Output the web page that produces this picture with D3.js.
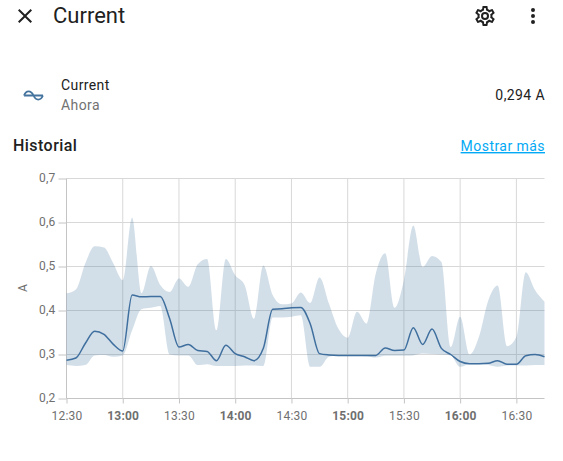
<!DOCTYPE html>
<html>
<head>
<meta charset="utf-8">
<script src="https://cdn.jsdelivr.net/npm/d3@7"></script>
<style>
  html, body { margin: 0; padding: 0; background: #fff; overflow: hidden; }
  text { font-family: Roboto, sans-serif; }
</style>
</head>
<body>
<svg id="chart" width="563" height="461"></svg>
<script>
// minutes after 12:30, one reading every 5 minutes
var minutes = [0, 5, 10, 15, 20, 25, 30, 35, 40, 45, 50, 55, 60, 65, 70, 75, 80, 85, 90, 95, 100, 105, 110, 115, 120, 125, 130, 135, 140, 145, 150, 155, 160, 165, 170, 175, 180, 185, 190, 195, 200, 205, 210, 215, 220, 225, 230, 235, 240, 245, 250, 255];

var mean_values = [0.287, 0.292, 0.325, 0.353, 0.346, 0.323, 0.308, 0.435, 0.431, 0.432, 0.432, 0.382, 0.317, 0.323, 0.309, 0.307, 0.286, 0.321, 0.302, 0.295, 0.286, 0.314, 0.403, 0.404, 0.406, 0.407, 0.370, 0.302, 0.299, 0.298, 0.298, 0.298, 0.298, 0.298, 0.315, 0.309, 0.310, 0.361, 0.323, 0.358, 0.314, 0.300, 0.284, 0.279, 0.279, 0.280, 0.286, 0.278, 0.278, 0.297, 0.300, 0.295];

var max_values = [0.439, 0.448, 0.507, 0.546, 0.543, 0.507, 0.469, 0.611, 0.439, 0.501, 0.458, 0.442, 0.473, 0.454, 0.505, 0.517, 0.355, 0.517, 0.480, 0.458, 0.381, 0.502, 0.435, 0.414, 0.416, 0.441, 0.417, 0.475, 0.416, 0.359, 0.338, 0.397, 0.370, 0.484, 0.530, 0.406, 0.469, 0.593, 0.499, 0.524, 0.510, 0.317, 0.386, 0.300, 0.340, 0.423, 0.457, 0.319, 0.340, 0.487, 0.446, 0.420];

var min_values = [0.276, 0.274, 0.276, 0.298, 0.299, 0.295, 0.298, 0.355, 0.403, 0.406, 0.410, 0.300, 0.298, 0.298, 0.276, 0.278, 0.274, 0.274, 0.274, 0.275, 0.275, 0.274, 0.384, 0.384, 0.386, 0.389, 0.272, 0.272, 0.295, 0.298, 0.298, 0.297, 0.296, 0.293, 0.297, 0.297, 0.297, 0.298, 0.302, 0.301, 0.300, 0.298, 0.272, 0.278, 0.278, 0.276, 0.272, 0.275, 0.275, 0.275, 0.276, 0.276];

var y_ticks = [0.2, 0.3, 0.4, 0.5, 0.6, 0.7];
var x_tick_minutes = [0, 30, 60, 90, 120, 150, 180, 210, 240];
var x_tick_labels = ['12:30', '13:00', '13:30', '14:00', '14:30', '15:00', '15:30', '16:00', '16:30'];
var bold_labels = ['13:00', '14:00', '15:00', '16:00'];

var icon_close = 'M19,6.41L17.59,5L12,10.59L6.41,5L5,6.41L10.59,12L5,17.59L6.41,19L12,13.41L17.59,19L19,17.59L13.41,12L19,6.41Z';
var icon_cog = 'M12,8A4,4 0 0,1 16,12A4,4 0 0,1 12,16A4,4 0 0,1 8,12A4,4 0 0,1 12,8M12,10A2,2 0 0,0 10,12A2,2 0 0,0 12,14A2,2 0 0,0 14,12A2,2 0 0,0 12,10M10,22C9.75,22 9.54,21.82 9.5,21.58L9.13,18.93C8.5,18.68 7.96,18.34 7.44,17.94L4.95,18.95C4.73,19.03 4.46,18.95 4.34,18.73L2.34,15.27C2.21,15.05 2.27,14.78 2.46,14.63L4.57,12.97L4.5,12L4.57,11L2.46,9.37C2.27,9.22 2.21,8.95 2.34,8.73L4.34,5.27C4.46,5.05 4.73,4.96 4.95,5.05L7.44,6.05C7.96,5.66 8.5,5.32 9.13,5.07L9.5,2.42C9.54,2.18 9.75,2 10,2H14C14.25,2 14.46,2.18 14.5,2.42L14.87,5.07C15.5,5.32 16.04,5.66 16.56,6.05L19.05,5.05C19.27,4.96 19.54,5.05 19.66,5.27L21.66,8.73C21.79,8.95 21.73,9.22 21.54,9.37L19.43,11L19.5,12L19.43,13L21.54,14.63C21.73,14.78 21.79,15.05 21.66,15.27L19.66,18.73C19.54,18.95 19.27,19.04 19.05,18.95L16.56,17.95C16.04,18.34 15.5,18.68 14.87,18.93L14.5,21.58C14.46,21.82 14.25,22 14,22H10M11.25,4L10.88,6.61C9.68,6.86 8.62,7.5 7.85,8.39L5.44,7.35L4.69,8.65L6.8,10.2C6.4,11.37 6.4,12.64 6.8,13.8L4.68,15.36L5.43,16.66L7.86,15.62C8.63,16.5 9.68,17.14 10.87,17.38L11.24,20H12.76L13.13,17.39C14.32,17.14 15.37,16.5 16.14,15.62L18.57,16.66L19.32,15.36L17.2,13.81C17.6,12.64 17.6,11.37 17.2,10.2L19.31,8.65L18.56,7.35L16.15,8.39C15.38,7.5 14.32,6.86 13.12,6.62L12.75,4H11.25Z';
var icon_dots = 'M12,16A2,2 0 0,1 14,18A2,2 0 0,1 12,20A2,2 0 0,1 10,18A2,2 0 0,1 12,16M12,10A2,2 0 0,1 14,12A2,2 0 0,1 12,14A2,2 0 0,1 10,12A2,2 0 0,1 12,10M12,4A2,2 0 0,1 14,6A2,2 0 0,1 12,8A2,2 0 0,1 10,6A2,2 0 0,1 12,4Z';

var line_color = '#3f6f9e';

var svg = d3.select('#chart');

var x = d3.scaleLinear().domain([0, 255]).range([66.5, 544.5]);
var y = d3.scaleLinear().domain([0.2, 0.7]).range([398.5, 178.5]);

drawHeader();
drawGrid();
drawSeries();
drawAxes();


function drawHeader() {

    svg.append('path').attr('d', icon_close).attr('fill', '#212121')
        .attr('transform', 'translate(13,4)');
    svg.append('path').attr('d', icon_cog).attr('fill', '#212121')
        .attr('transform', 'translate(473,4)');
    svg.append('path').attr('d', icon_dots).attr('fill', '#212121')
        .attr('transform', 'translate(521,4)');

    addText(53, 23, 'Current', 22, '#212121');
    addText(61, 90, 'Current', 14, '#212121').attr('letter-spacing', 0.4);
    addText(61, 110, 'Ahora', 14, '#727272').attr('letter-spacing', 0.4);
    addText(545, 100, '0,294 A', 14, '#212121').attr('text-anchor', 'end').attr('letter-spacing', 0.4);
    addText(13, 151, 'Historial', 16, '#212121').attr('font-weight', 500).attr('letter-spacing', 0.45);
    addText(545, 151, 'Mostrar más', 14, '#03a9f4')
        .attr('text-anchor', 'end')
        .attr('letter-spacing', 0.45)
        .attr('text-decoration', 'underline');

    // state icon, sine over a flat line
    svg.append('path')
        .attr('d', 'M24,95.5C26,90 31,90 33.5,95.5C36,101 40.5,101 43,95.5M24,95.5H43')
        .attr('fill', 'none')
        .attr('stroke', '#44739e')
        .attr('stroke-width', 1.8);
}


function addText(px, py, label, size, color) {

    return svg.append('text')
        .attr('x', px)
        .attr('y', py)
        .attr('font-size', size)
        .attr('fill', color)
        .text(label);
}


function drawGrid() {

    var grid = svg.append('g');

    grid.selectAll('.h')
        .data(y_ticks)
        .enter().append('line')
        .attr('x1', x(0)).attr('x2', x(255))
        .attr('y1', function(d) { return y(d); })
        .attr('y2', function(d) { return y(d); })
        .attr('stroke', function(d) { return d == 0.2 ? '#c4c4c4' : '#d8d8d8'; });

    grid.selectAll('.v')
        .data(x_tick_minutes)
        .enter().append('line')
        .attr('x1', function(d) { return x(d); })
        .attr('x2', function(d) { return x(d); })
        .attr('y1', y(0.7)).attr('y2', y(0.2))
        .attr('stroke', function(d) { return d == 0 ? '#c4c4c4' : '#d8d8d8'; });
}


function drawSeries() {

    var area = d3.area()
        .curve(d3.curveMonotoneX)
        .x(function(d) { return x(d); })
        .y0(function(d, i) { return y(min_values[i]); })
        .y1(function(d, i) { return y(max_values[i]); });

    var line = d3.line()
        .curve(d3.curveMonotoneX)
        .x(function(d) { return x(d); })
        .y(function(d, i) { return y(mean_values[i]); });

    svg.append('path')
        .attr('d', area(minutes))
        .attr('fill', '#44739e')
        .attr('fill-opacity', 0.24);

    svg.append('path')
        .attr('d', line(minutes))
        .attr('fill', 'none')
        .attr('stroke', line_color)
        .attr('stroke-width', 1.5);
}


function drawAxes() {

    var x_axis = d3.axisBottom(x)
        .tickValues(x_tick_minutes)
        .tickFormat(function(d, i) { return x_tick_labels[i]; })
        .tickSize(5)
        .tickPadding(8);

    var y_axis = d3.axisLeft(y)
        .tickValues(y_ticks)
        .tickFormat(function(d) { return d3.format('.1f')(d).replace('.', ','); })
        .tickSize(8)
        .tickPadding(3);

    var gx = svg.append('g').attr('transform', 'translate(0,' + y(0.2) + ')').call(x_axis);
    var gy = svg.append('g').attr('transform', 'translate(' + x(0) + ',0)').call(y_axis);

    [gx, gy].forEach(function(g) {
        g.select('.domain').remove();
        g.selectAll('line').attr('stroke', '#c4c4c4');
        g.selectAll('text')
            .attr('font-family', 'Roboto, sans-serif')
            .attr('font-size', 12)
            .attr('letter-spacing', 0.2)
            .attr('fill', '#6f6f6f');
    });

    gy.selectAll('text').attr('dy', '0.22em');

    gx.selectAll('text')
        .attr('font-weight', function(d, i) {
            return bold_labels.indexOf(x_tick_labels[i]) >= 0 ? 700 : 400;
        });

    svg.append('text')
        .attr('transform', 'translate(27,288) rotate(-90)')
        .attr('text-anchor', 'middle')
        .attr('font-size', 12)
        .attr('fill', '#6f6f6f')
        .text('A');
}
</script>
</body>
</html>
